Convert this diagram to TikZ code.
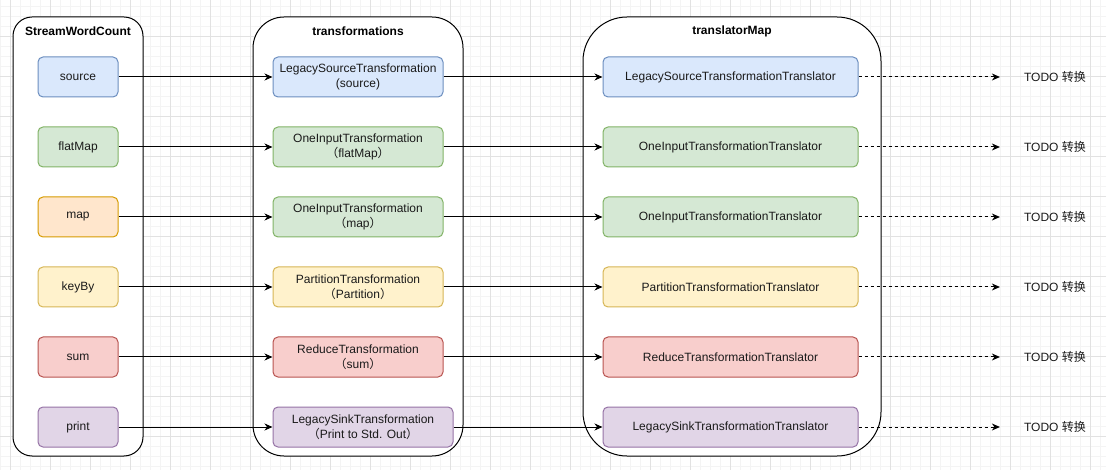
\documentclass[tikz,border=0pt]{standalone}
\usepackage{fontspec}
\setmainfont{Liberation Sans}
\newfontfamily\cjk{Noto Sans CJK SC}
\usetikzlibrary{arrows.meta, positioning}
\definecolor{wcbluefill}{HTML}{DAE8FC}
\definecolor{wcblueline}{HTML}{6C8EBF}
\definecolor{wcgreenfill}{HTML}{D5E8D4}
\definecolor{wcgreenline}{HTML}{82B366}
\definecolor{wcorangefill}{HTML}{FFE6CC}
\definecolor{wcorangeline}{HTML}{D79B00}
\definecolor{wcyellowfill}{HTML}{FFF2CC}
\definecolor{wcyellowline}{HTML}{D6B656}
\definecolor{wcredfill}{HTML}{F8CECC}
\definecolor{wcredline}{HTML}{B85450}
\definecolor{wcpurplefill}{HTML}{E1D5E7}
\definecolor{wcpurpleline}{HTML}{9673A6}
\definecolor{wcgridminor}{HTML}{F4F4F4}
\definecolor{wcgridmajor}{HTML}{E2E2E2}
\definecolor{wctext}{HTML}{1A1A1A}
\newcommand{\fwopen}{{\cjk （}}
\newcommand{\fwclose}{{\cjk ）}}

\begin{document}
\begin{tikzpicture}[x=1pt, y=-1pt,
  op/.style={draw, line width=1pt, rounded corners=5pt, minimum width=80pt, minimum height=40pt, align=center, inner sep=0pt, text=wctext, font=\fontsize{12}{15}\selectfont},
  group/.style={draw, line width=1pt, minimum height=439pt, inner sep=0pt},
  grouptitle/.style={font=\fontsize{12}{15}\selectfont\bfseries, inner sep=0pt},
  todotext/.style={font=\fontsize{12}{15}\selectfont, inner sep=0pt, text=wctext},
  flow/.style={line width=1pt, -{Stealth[length=8pt, width=7pt, inset=2.5pt]}},
  todoflow/.style={flow, dash pattern=on 3pt off 3pt, shorten >=24pt}
]
\useasboundingbox[fill=white] (0,0) rectangle (1106,470);
% background grid
\foreach \gx in {0,10,...,1100} \draw[wcgridminor, line width=0.6pt] (\gx,0) -- (\gx,470);
\foreach \gy in {6,16,...,466} \draw[wcgridminor, line width=0.6pt] (0,\gy) -- (1106,\gy);
\foreach \gx in {10,50,...,1090} \draw[wcgridmajor, line width=0.8pt] (\gx,0) -- (\gx,470);
\foreach \gy in {36,76,...,436} \draw[wcgridmajor, line width=0.8pt] (0,\gy) -- (1106,\gy);

% containers
\node[group, fill=white, rounded corners=19pt, minimum width=130pt] (swc) at (78,236.5) {};
\node[group, fill=white, rounded corners=31pt, minimum width=210pt] (tfs) at (358,236.5) {};
\node[group, fill=white, rounded corners=44pt, minimum width=298pt] (tmap) at (732,236.5) {};
\node[grouptitle] (swctitle) at (78,31) {StreamWordCount};
\node[grouptitle] (tfstitle) at (358,31) {transformations};
\node[grouptitle] (tmaptitle) at (732,31) {translatorMap};

% StreamWordCount operators
\node[op, fill=wcbluefill, draw=wcblueline] (source) at (78,77) {source};
\node[op, fill=wcgreenfill, draw=wcgreenline] (flatmap) at (78,147) {flatMap};
\node[op, fill=wcorangefill, draw=wcorangeline] (map) at (78,217) {map};
\node[op, fill=wcyellowfill, draw=wcyellowline] (keyby) at (78,287) {keyBy};
\node[op, fill=wcredfill, draw=wcredline] (sum) at (78,357) {sum};
\node[op, fill=wcpurplefill, draw=wcpurpleline] (print) at (78,427) {print};

% transformations
\node[op, fill=wcbluefill, draw=wcblueline, minimum width=170pt] (tsource) at (358,77) {LegacySourceTransformation\\(source)};
\node[op, fill=wcgreenfill, draw=wcgreenline, minimum width=170pt] (tflatmap) at (358,147) {OneInputTransformation\\\fwopen flatMap\fwclose};
\node[op, fill=wcgreenfill, draw=wcgreenline, minimum width=170pt] (tmapop) at (358,217) {OneInputTransformation\\\fwopen map\fwclose};
\node[op, fill=wcyellowfill, draw=wcyellowline, minimum width=170pt] (tkeyby) at (358,287) {PartitionTransformation\\\fwopen Partition\fwclose};
\node[op, fill=wcredfill, draw=wcredline, minimum width=170pt] (tsum) at (358,357) {ReduceTransformation\\\fwopen sum\fwclose};
\node[op, fill=wcpurplefill, draw=wcpurpleline, minimum width=180pt] (tprint) at (363,427) {LegacySinkTransformation\\\fwopen Print to Std. Out\fwclose};

% translators
\node[op, fill=wcbluefill, draw=wcblueline, minimum width=255pt] (rsource) at (730.5,77) {LegacySourceTransformationTranslator};
\node[op, fill=wcgreenfill, draw=wcgreenline, minimum width=255pt] (rflatmap) at (730.5,147) {OneInputTransformationTranslator};
\node[op, fill=wcgreenfill, draw=wcgreenline, minimum width=255pt] (rmap) at (730.5,217) {OneInputTransformationTranslator};
\node[op, fill=wcyellowfill, draw=wcyellowline, minimum width=255pt] (rkeyby) at (730.5,287) {PartitionTransformationTranslator};
\node[op, fill=wcredfill, draw=wcredline, minimum width=255pt] (rsum) at (730.5,357) {ReduceTransformationTranslator};
\node[op, fill=wcpurplefill, draw=wcpurpleline, minimum width=255pt] (rprint) at (730.5,427) {LegacySinkTransformationTranslator};

% TODO labels
\node[todotext] (todo1) at (1055,77) {TODO {\cjk 转换}};
\node[todotext] (todo2) at (1055,147) {TODO {\cjk 转换}};
\node[todotext] (todo3) at (1055,217) {TODO {\cjk 转换}};
\node[todotext] (todo4) at (1055,287) {TODO {\cjk 转换}};
\node[todotext] (todo5) at (1055,357) {TODO {\cjk 转换}};
\node[todotext] (todo6) at (1055,427) {TODO {\cjk 转换}};

% connectors
\draw[flow] (source) -- (tsource);
\draw[flow] (flatmap) -- (tflatmap);
\draw[flow] (map) -- (tmapop);
\draw[flow] (keyby) -- (tkeyby);
\draw[flow] (sum) -- (tsum);
\draw[flow] (print) -- (tprint);
\draw[flow] (tsource) -- (rsource);
\draw[flow] (tflatmap) -- (rflatmap);
\draw[flow] (tmapop) -- (rmap);
\draw[flow] (tkeyby) -- (rkeyby);
\draw[flow] (tsum) -- (rsum);
\draw[flow] (tprint) -- (rprint);
\draw[todoflow] (rsource) -- (todo1);
\draw[todoflow] (rflatmap) -- (todo2);
\draw[todoflow] (rmap) -- (todo3);
\draw[todoflow] (rkeyby) -- (todo4);
\draw[todoflow] (rsum) -- (todo5);
\draw[todoflow] (rprint) -- (todo6);
\end{tikzpicture}
\end{document}
